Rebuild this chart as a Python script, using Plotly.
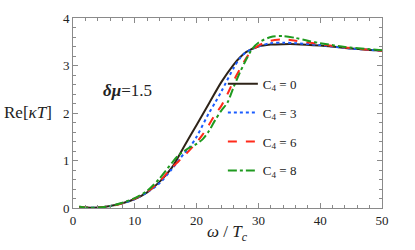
import plotly.graph_objects as go

# ---- data ----
x_c0 = [1, 2, 4, 6, 8, 10, 12, 14, 16, 18, 20, 22, 24, 26, 27, 28, 30, 32, 34, 36, 40, 44, 50]
y_c0 = [0.02, 0.01, 0.01, 0.04, 0.10, 0.19, 0.33, 0.55, 0.85, 1.30, 1.75, 2.20, 2.65, 3.02, 3.17, 3.28, 3.40, 3.44, 3.45, 3.45, 3.42, 3.37, 3.31]

x_c3 = [1, 2, 4, 6, 8, 10, 12, 14, 16, 18, 19, 20, 22, 23, 24, 26, 27, 28, 30, 32, 34, 36, 40, 44, 50]
y_c3 = [0.02, 0.01, 0.01, 0.04, 0.10, 0.19, 0.33, 0.52, 0.82, 1.15, 1.30, 1.50, 2.00, 2.22, 2.45, 2.95, 3.15, 3.28, 3.40, 3.47, 3.48, 3.47, 3.43, 3.37, 3.31]

x_c6 = [1, 2, 4, 6, 8, 10, 12, 14, 16, 18, 20, 21, 22, 23, 24, 25, 26, 27, 28, 29, 30, 32, 34, 36, 40, 44, 50]
y_c6 = [0.02, 0.01, 0.01, 0.04, 0.10, 0.20, 0.34, 0.56, 0.85, 1.10, 1.38, 1.55, 1.75, 1.97, 2.15, 2.40, 2.68, 2.92, 3.15, 3.32, 3.42, 3.52, 3.55, 3.52, 3.45, 3.38, 3.31]

x_c8 = [1, 2, 4, 6, 8, 10, 12, 14, 16, 17, 18, 19, 20, 21, 22, 23, 24, 25, 26, 27, 28, 29, 30, 32, 34, 36, 38, 40, 44, 50]
y_c8 = [0.03, 0.01, 0.01, 0.04, 0.11, 0.21, 0.36, 0.62, 0.95, 1.10, 1.20, 1.28, 1.35, 1.45, 1.62, 1.85, 2.05, 2.22, 2.55, 2.85, 3.12, 3.35, 3.48, 3.60, 3.62, 3.58, 3.52, 3.47, 3.39, 3.32]

labels = ["C<sub>4</sub> = 0", "C<sub>4</sub> = 3", "C<sub>4</sub> = 6", "C<sub>4</sub> = 8"]
x_ticks = [0, 10, 20, 30, 40, 50]
y_ticks = [0, 1, 2, 3, 4]

series = [(x_c0, y_c0), (x_c3, y_c3), (x_c6, y_c6), (x_c8, y_c8)]
colors = ["#2e2318", "#1a5cff", "#ff2a1a", "#1f9a1f"]
dashes = ["solid", "dot", "dash", "dashdot"]

FONT = "Liberation Serif, Times New Roman, serif"

fig = go.Figure()
for i, ((xs, ys), lab) in enumerate(zip(series, labels)):
    fig.add_trace(go.Scatter(
        x=xs, y=ys, mode="lines", name=lab,
        line=dict(color=colors[i], dash=dashes[i], width=2, shape="spline", smoothing=0.8),
        legendgroup=f"g{i}",
    ))

axis_common = dict(
    showline=True, linecolor="#8a8a8a", linewidth=1, mirror="allticks",
    ticks="inside", ticklen=5, tickcolor="#8a8a8a", tickwidth=1,
    showgrid=False, zeroline=False,
    tickfont=dict(family=FONT, size=13, color="#222"),
)

fig.update_xaxes(range=[0, 50], tickvals=x_ticks,
                 minor=dict(dtick=2, ticks="inside", ticklen=3, tickcolor="#8a8a8a"),
                 **axis_common)
fig.update_yaxes(range=[0, 4], tickvals=y_ticks,
                 minor=dict(dtick=0.2, ticks="inside", ticklen=3, tickcolor="#8a8a8a"),
                 **axis_common)

fig.update_layout(
    width=415, height=250,
    margin=dict(l=73, r=33, t=18, b=42),
    paper_bgcolor="white", plot_bgcolor="white",
    font=dict(family=FONT, color="#222"),
    showlegend=True,
    legend=dict(
        x=0.485, y=0.733, xanchor="left", yanchor="top",
        bgcolor="rgba(0,0,0,0)",
        font=dict(family=FONT, size=13, color="#222"),
        tracegroupgap=9, itemwidth=30,
    ),
    annotations=[
        dict(text="Re[<i>κT</i>]", xref="paper", yref="paper", x=-0.146, y=0.505,
             xanchor="center", yanchor="middle", showarrow=False,
             font=dict(family=FONT, size=17, color="#222")),
        dict(text="<i>ω</i> / <i>T<sub>c</sub></i>", xref="paper", yref="paper", x=0.5, y=-0.132,
             xanchor="center", yanchor="middle", showarrow=False,
             font=dict(family=FONT, size=17, color="#222")),
        dict(text="<b><i>δμ</i></b>=1.5", xref="paper", yref="paper", x=0.175, y=0.62,
             xanchor="center", yanchor="middle", showarrow=False,
             font=dict(family=FONT, size=17, color="#222")),
    ],
)

# remove the page's default 8px body margin so the figure fills the window
fig.write_html("out.html", config={"displayModeBar": False},
               post_script="document.body.style.margin='0';")
